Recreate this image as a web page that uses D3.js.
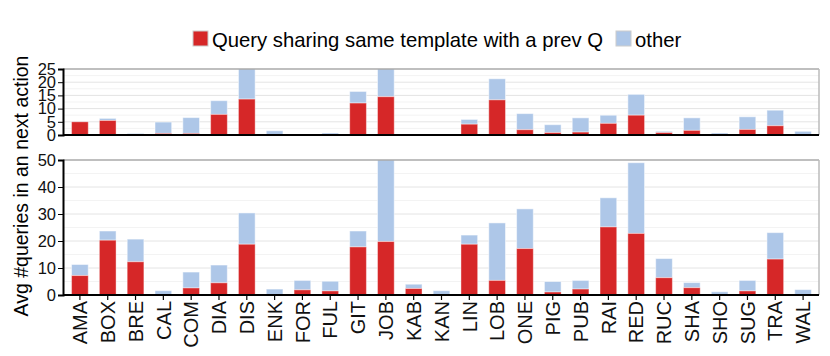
<!DOCTYPE html>
<html>
<head>
<meta charset="utf-8">
<script src="https://cdn.jsdelivr.net/npm/d3@7"></script>
<style>
  body { margin: 0; background: #fff; }
  text { font-family: "Liberation Sans", Arial, sans-serif; }
</style>
</head>
<body>
<svg id="chart" width="830" height="356"></svg>
<script>
// categories on the x axis
var categories = ["AMA","BOX","BRE","CAL","COM","DIA","DIS","ENK","FOR","FUL","GIT","JOB","KAB",
  "KAN","LIN","LOB","ONE","PIG","PUB","RAI","RED","RUC","SHA","SHO","SUG","TRA","WAL"];

// top panel: next action (shared template, total)
var top_shared = [5.0,5.5,0,0.6,0.6,7.8,13.6,0,0,0,12.1,14.5,0,
  0,4.1,13.3,2.0,0.9,1.1,4.4,7.5,0.9,1.75,0,2.1,3.5,0];
var top_total = [5.1,6.3,0.6,4.9,6.6,13.0,28.0,1.6,0,0.75,16.5,28.0,0,
  0,5.9,21.3,8.1,3.9,6.5,7.5,15.4,1.4,6.5,0.75,6.9,9.4,1.4];

// bottom panel: action (shared template, total)
var bot_shared = [7.2,20.3,12.3,0,2.6,4.5,18.8,0,1.9,1.5,17.8,19.8,2.4,
  0,18.8,5.4,17.2,1.1,2.2,25.2,22.8,6.4,2.7,0,1.5,13.3,0];
var bot_total = [11.3,23.7,20.7,1.6,8.5,11.1,30.4,2.2,5.4,5.1,23.7,55,4.0,
  1.6,22.2,26.7,31.9,5.0,5.4,36.0,49.0,13.5,4.6,1.2,5.4,23.1,2.0];

var top_ticks = [0,5,10,15,20,25];
var bot_ticks = [0,10,20,30,40,50];

var legend_labels = ["Query sharing same template with a prev Q", "other"];
var colors = ["#d62728", "#aec7e8"];

var svg = d3.select("#chart");
var left = 63, right = 819;

var x = d3.scaleBand().domain(categories).range([66, 817]).paddingInner(0.4).paddingOuter(0.2);

function draw_panel(shared, total, y0, y1, max, ticks, minor_step, show_x){
  var y = d3.scaleLinear().domain([0, max]).range([y1, y0]);
  var g = svg.append("g");
  var clip_id = "clip" + y0;
  svg.append("clipPath").attr("id", clip_id)
    .append("rect").attr("x", left).attr("y", y0).attr("width", right - left).attr("height", y1 - y0);

  // minor + major gridlines
  var minors = d3.range(minor_step, max, minor_step * 2);
  g.selectAll("line.minor").data(minors).enter().append("line")
    .attr("x1", left).attr("x2", right)
    .attr("y1", function(d){ return y(d); }).attr("y2", function(d){ return y(d); })
    .style("stroke", "#f3f3f3").style("stroke-width", 1);
  g.selectAll("line.major").data(ticks.slice(1, -1)).enter().append("line")
    .attr("x1", left).attr("x2", right)
    .attr("y1", function(d){ return y(d); }).attr("y2", function(d){ return y(d); })
    .style("stroke", "#e4e4e4").style("stroke-width", 1);

  var bars = g.append("g").attr("clip-path", "url(#" + clip_id + ")");
  // other part (stacked on top)
  bars.selectAll("rect.other").data(categories).enter().append("rect")
    .attr("x", function(d){ return x(d); })
    .attr("width", x.bandwidth())
    .attr("y", function(d, i){ return y(total[i]); })
    .attr("height", function(d, i){ return y(shared[i]) - y(total[i]); })
    .attr("fill", colors[1])
    .style("stroke", "#fff").style("stroke-opacity", 0.5).style("stroke-width", 1);
  bars.selectAll("rect.shared").data(categories).enter().append("rect")
    .attr("x", function(d){ return x(d); })
    .attr("width", x.bandwidth())
    .attr("y", function(d, i){ return y(shared[i]); })
    .attr("height", function(d, i){ return y1 - y(shared[i]); })
    .attr("fill", colors[0])
    .style("stroke", "#fff").style("stroke-opacity", 0.4).style("stroke-width", 1);

  // frame
  g.append("line").attr("x1", left).attr("x2", right).attr("y1", y0).attr("y2", y0)
    .style("stroke", "#aaa").style("stroke-width", 1.5);
  g.append("line").attr("x1", right).attr("x2", right).attr("y1", y0).attr("y2", y1)
    .style("stroke", "#bbb").style("stroke-width", 1.5);

  var ya = d3.axisLeft(y).tickValues(ticks).tickSize(5).tickPadding(2);
  var yg = svg.append("g").attr("transform", "translate(" + left + ",0)").call(ya);
  yg.select(".domain").style("stroke-width", 2);
  yg.selectAll("text").style("font-size", "16.5px").attr("fill", "#111");

  var xa = d3.axisBottom(x).tickSize(show_x ? 5 : 0).tickFormat(show_x ? null : "");
  var xg = svg.append("g").attr("transform", "translate(0," + y1 + ")").call(xa);
  xg.select(".domain").attr("d", "M" + left + ",0H" + right).style("stroke-width", 2);
  xg.selectAll("line").style("stroke-width", 1.2);
  if (show_x) {
    xg.selectAll("text")
      .style("font-size", "20px").attr("fill", "#111")
      .attr("text-anchor", "end")
      .attr("transform", "rotate(-90)")
      .attr("x", -6).attr("y", 0).attr("dy", "0.36em");
  }
}

draw_panel(top_shared, top_total, 69, 135, 25, top_ticks, 2.5, false);
draw_panel(bot_shared, bot_total, 160, 295, 50, bot_ticks, 5, true);

// y axis label
svg.append("text")
  .attr("transform", "translate(28,186) rotate(-90)")
  .attr("text-anchor", "middle")
  .style("font-size", "19.5px")
  .text("Avg #queries in an next action");

// legend
var leg = svg.append("g");
var lx = [193, 616];
legend_labels.forEach(function(l, i){
  leg.append("rect").attr("x", lx[i]).attr("y", 31).attr("width", 15).attr("height", 15)
    .attr("fill", colors[i]).style("stroke", "#ccc").style("stroke-width", 1);
  leg.append("text").attr("x", lx[i] + 19).attr("y", 47)
    .style("font-size", "20.3px").text(l);
});
</script>
</body>
</html>
